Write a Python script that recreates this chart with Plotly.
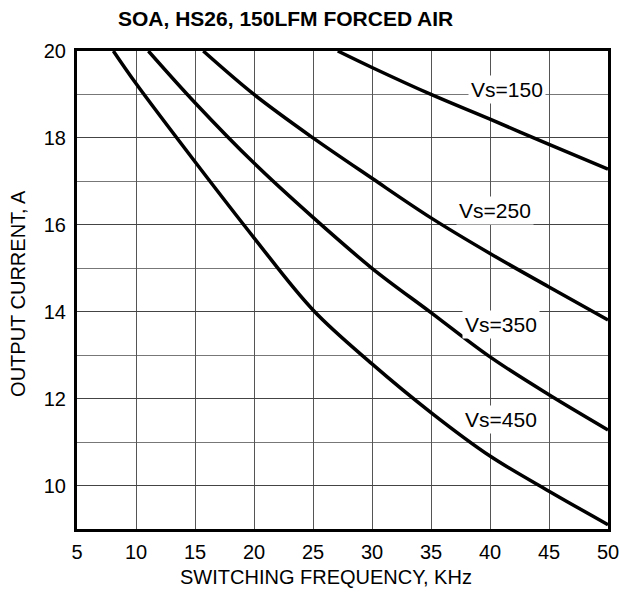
import plotly.graph_objects as go

# ---- data ----
vs_labels = ["Vs=150", "Vs=250", "Vs=350", "Vs=450"]

freq_150 = [27.1, 30, 35, 40, 45, 50]
curr_150 = [20.0, 19.62, 19.0, 18.43, 17.85, 17.28]

freq_250 = [15.7, 20, 25, 30, 35, 40, 45, 50]
curr_250 = [20.0, 19.0, 18.0, 17.07, 16.16, 15.34, 14.57, 13.81]

freq_350 = [11.05, 15, 20, 25, 30, 35, 40, 45, 50]
curr_350 = [20.0, 18.81, 17.42, 16.17, 15.0, 13.98, 12.96, 12.09, 11.28]

freq_450 = [8.08, 10, 15, 20, 25, 30, 35, 40, 45, 50]
curr_450 = [20.0, 19.25, 17.45, 15.7, 14.04, 12.8, 11.68, 10.68, 9.87, 9.1]

# label anchor positions (data coords)
label_x = [41.4, 40.4, 40.9, 40.9]
label_y = [19.12, 16.33, 13.7, 11.53]

x_ticks = [5, 10, 15, 20, 25, 30, 35, 40, 45, 50]
y_ticks = [10, 12, 14, 16, 18, 20]

FONT = "Liberation Sans, Arial, Helvetica, sans-serif"

fig = go.Figure()
for fx, cy, name in [(freq_150, curr_150, vs_labels[0]),
                     (freq_250, curr_250, vs_labels[1]),
                     (freq_350, curr_350, vs_labels[2]),
                     (freq_450, curr_450, vs_labels[3])]:
    fig.add_trace(go.Scatter(x=fx, y=cy, mode="lines", name=name,
                             line=dict(color="black", width=3.5, shape="spline", smoothing=1.0),
                             showlegend=False, hoverinfo="skip"))

for lx, ly, txt in zip(label_x, label_y, vs_labels):
    fig.add_annotation(x=lx, y=ly, xref="x", yref="y", text=txt, showarrow=False,
                       font=dict(family=FONT, size=21, color="black"),
                       bgcolor="white", borderpad=2)

fig.add_annotation(x=0.392, y=1.069, xref="paper", yref="paper",
                   text="<b>SOA, HS26, 150LFM FORCED AIR</b>", showarrow=False,
                   xanchor="center", yanchor="middle",
                   font=dict(family=FONT, size=21, color="black"))
fig.add_annotation(x=0.469, y=-0.101, xref="paper", yref="paper",
                   text="SWITCHING FREQUENCY, KHz", showarrow=False,
                   xanchor="center", yanchor="middle",
                   font=dict(family=FONT, size=20, color="black"))
fig.add_annotation(x=-0.111, y=0.492, xref="paper", yref="paper",
                   text="OUTPUT CURRENT, A", showarrow=False, textangle=-90,
                   xanchor="center", yanchor="middle",
                   font=dict(family=FONT, size=20, color="black"))

fig.update_xaxes(range=[5, 50], tickvals=x_ticks, ticktext=[str(v) for v in x_ticks],
                 showgrid=True, gridcolor="#555", gridwidth=1,
                 showline=True, linecolor="black", linewidth=3, mirror=True,
                 ticks="outside", ticklen=3, tickcolor="rgba(0,0,0,0)",
                 tickfont=dict(family=FONT, size=20, color="black"), zeroline=False,
                 automargin=False)
fig.update_yaxes(range=[9, 20], tickvals=y_ticks, ticktext=[str(v) for v in y_ticks],
                 showgrid=True, gridcolor="#444", gridwidth=1,
                 minor=dict(dtick=1, tick0=9, showgrid=True, gridcolor="#777", gridwidth=1),
                 showline=True, linecolor="black", linewidth=3, mirror=True,
                 ticks="outside", ticklen=4, tickcolor="rgba(0,0,0,0)",
                 tickfont=dict(family=FONT, size=20, color="black"), zeroline=False,
                 automargin=False)

fig.update_layout(width=620, height=592,
                  margin=dict(l=77, r=12, t=51, b=63),
                  paper_bgcolor="white", plot_bgcolor="white")

fig.write_html("out.html", config={"displayModeBar": False},
               post_script="document.body.style.margin='0';document.body.style.overflow='hidden';")
